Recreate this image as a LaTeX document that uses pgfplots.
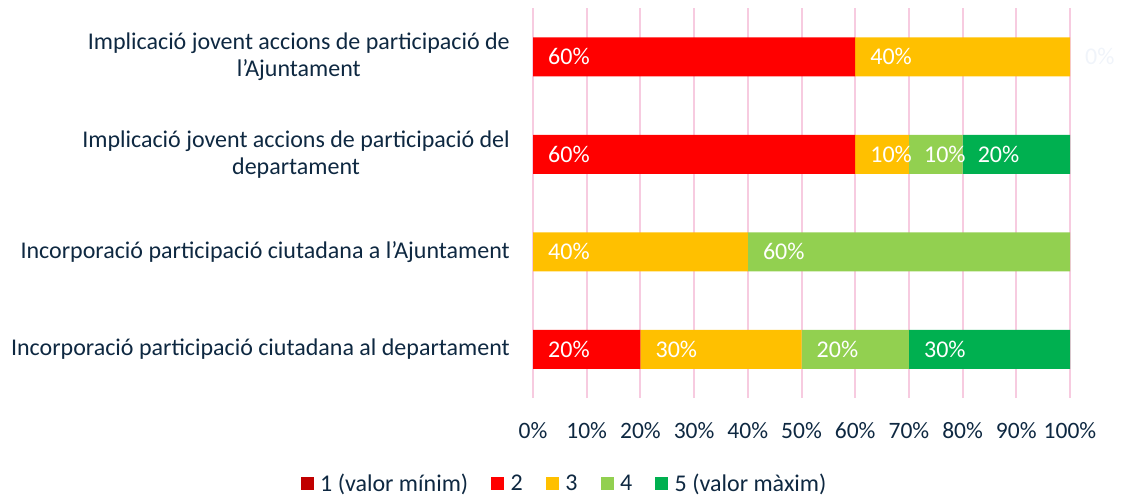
\documentclass[border=0pt]{standalone}
\usepackage{fontspec}
\setmainfont{Carlito}
\usepackage{pgfplots}
\usepackage{pgfplotstable}
\pgfplotsset{compat=1.18}
\definecolor{cA}{HTML}{C00000}
\definecolor{cB}{HTML}{FF0000}
\definecolor{cC}{HTML}{FFC000}
\definecolor{cD}{HTML}{92D050}
\definecolor{cE}{HTML}{00B050}
\definecolor{gridpink}{HTML}{F7CBE0}
\definecolor{txt}{HTML}{0E2841}
\definecolor{faint}{HTML}{F0F4FA}
\newcommand{\bigf}{\fontsize{24}{27}\selectfont}
\newcommand{\tickf}{\fontsize{23.5}{27}\selectfont}
\tikzset{lbl/.style={anchor=west, xshift=15pt, text=white, font=\bigf, inner sep=0pt}}
\pgfplotsset{sqlegend/.style={legend image code/.code={\fill[##1] (0pt,-6.5pt) rectangle (13pt,6.5pt);}}}
\pgfplotstableread{
y s1 s2 s3 s4 s5
0 0 20 30 20 30
1 0 0 40 60 0
2 0 60 10 10 20
3 0 60 40 0 0
}\tabdata
\begin{document}
\begin{tikzpicture}
\path[use as bounding box] (0pt,0pt) rectangle (1121pt,496pt);
\begin{axis}[
  at={(533pt,98pt)}, anchor=south west,
  scale only axis, width=537pt, height=390pt,
  xbar stacked, bar width=39pt,
  xmin=0, xmax=100, ymin=-0.5, ymax=3.5,
  clip=false,
  axis line style={draw=none},
  major tick length=0pt,
  xtick={0,10,20,30,40,50,60,70,80,90,100},
  xticklabels={0\%,10\%,20\%,30\%,40\%,50\%,60\%,70\%,80\%,90\%,100\%},
  xmajorgrids,
  grid style={color=gridpink, line width=2pt},
  ytick={0,1,2,3},
  yticklabels={{Incorporació participació ciutadana al departament},{Incorporació participació ciutadana a l'Ajuntament},{Implicació jovent accions de participació del\\departament},{Implicació jovent accions de participació de\\l'Ajuntament}},
  yticklabel style={align=center, inner sep=0pt, xshift=-23pt, text=txt, font=\bigf},
  xticklabel style={inner sep=0pt, yshift=-24pt, text=txt, font=\tickf},
  legend columns=5,
  legend style={at={(0.0587,-0.219)}, anchor=center, draw=none, fill=none,
    font=\bigf, text=txt,
    /tikz/every odd column/.append style={column sep=4.5pt},
    /tikz/every even column/.append style={column sep=21pt}},
  sqlegend,
  legend cell align=left,
]
\addplot[fill=cA, draw=none] table[x=s1, y=y]{\tabdata};
\addplot[fill=cB, draw=none] table[x=s2, y=y]{\tabdata};
\addplot[fill=cC, draw=none] table[x=s3, y=y]{\tabdata};
\addplot[fill=cD, draw=none] table[x=s4, y=y]{\tabdata};
\addplot[fill=cE, draw=none] table[x=s5, y=y]{\tabdata};
\legend{1 (valor mínim),2,3,4,5 (valor màxim)}
\coordinate (a1) at (axis cs:0,3);
\coordinate (a2) at (axis cs:60,3);
\coordinate (a3) at (axis cs:100,3);
\coordinate (b1) at (axis cs:0,2);
\coordinate (b2) at (axis cs:60,2);
\coordinate (b3) at (axis cs:70,2);
\coordinate (b4) at (axis cs:80,2);
\coordinate (c1) at (axis cs:0,1);
\coordinate (c2) at (axis cs:40,1);
\coordinate (d1) at (axis cs:0,0);
\coordinate (d2) at (axis cs:20,0);
\coordinate (d3) at (axis cs:50,0);
\coordinate (d4) at (axis cs:70,0);
\end{axis}
\node[lbl] at (a1) {60\%};
\node[lbl] at (a2) {40\%};
\node[lbl, text=faint] at (a3) {0\%};
\node[lbl] at (b1) {60\%};
\node[lbl] at (b2) {10\%};
\node[lbl] at (b3) {10\%};
\node[lbl] at (b4) {20\%};
\node[lbl] at (c1) {40\%};
\node[lbl] at (c2) {60\%};
\node[lbl] at (d1) {20\%};
\node[lbl] at (d2) {30\%};
\node[lbl] at (d3) {20\%};
\node[lbl] at (d4) {30\%};
\end{tikzpicture}
\end{document}
